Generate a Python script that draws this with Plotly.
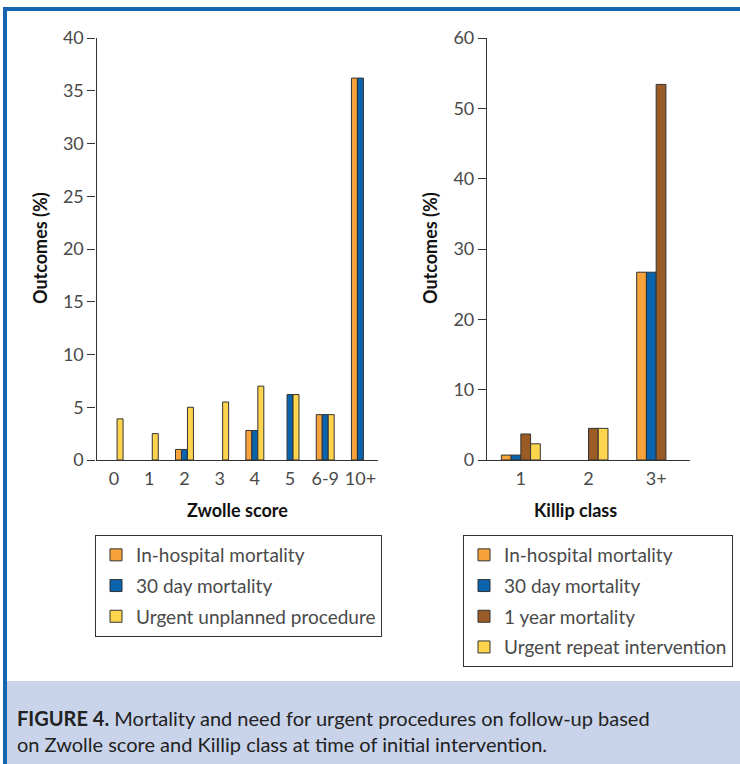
import plotly.graph_objects as go

# ---------------- data ----------------
zwolle_cats = ["0", "1", "2", "3", "4", "5", "6-9", "10+"]
zw_inhospital = [None, None, 1.0, None, 2.8, None, 4.3, 36.2]
zw_30day = [None, None, 1.0, None, 2.8, 6.2, 4.3, 36.2]
zw_urgent = [3.9, 2.5, 5.0, 5.5, 7.0, 6.2, 4.3, None]

killip_cats = ["1", "2", "3+"]
ki_inhospital = [0.7, None, 26.7]
ki_30day = [0.7, None, 26.7]
ki_1year = [3.7, 4.5, 53.4]
ki_urgent = [2.3, 4.5, None]

zw_yticks = [0, 5, 10, 15, 20, 25, 30, 35, 40]
ki_yticks = [0, 10, 20, 30, 40, 50, 60]

# ---------------- styling ----------------
W, H = 740, 764
FONT = "Lato"
ORANGE = "#F7A23A"
BLUE = "#0A63AD"
BROWN = "#9A5B27"
YELLOW = "#FFD44D"
EDGE = "#333333"
TXT = "#4a4a4a"


def px(x):
    return x / W


def py(y):
    return 1 - y / H


fig = go.Figure()

lw = 0.170
left_series = [
    ("In-hospital mortality", zw_inhospital, ORANGE, -1.5 * lw),
    ("30 day mortality", zw_30day, BLUE, -0.5 * lw),
    ("Urgent unplanned procedure", zw_urgent, YELLOW, 0.5 * lw),
]
for i, (name, vals, col, off) in enumerate(left_series):
    fig.add_trace(go.Bar(
        x=zwolle_cats, y=vals, name=name, width=lw, offset=off,
        marker=dict(color=col, line=dict(color=EDGE, width=1)),
        xaxis="x", yaxis="y", legend="legend", legendgroup="L%d" % i,
    ))

rw = 0.144
right_series = [
    ("In-hospital mortality", ki_inhospital, ORANGE, -2 * rw),
    ("30 day mortality", ki_30day, BLUE, -1 * rw),
    ("1 year mortality", ki_1year, BROWN, 0),
    ("Urgent repeat intervention", ki_urgent, YELLOW, rw),
]
for i, (name, vals, col, off) in enumerate(right_series):
    fig.add_trace(go.Bar(
        x=killip_cats, y=vals, name=name, width=rw, offset=off,
        marker=dict(color=col, line=dict(color=EDGE, width=1)),
        xaxis="x2", yaxis="y2", legend="legend2", legendgroup="R%d" % i,
    ))

axis_common = dict(showline=True, linecolor=EDGE, linewidth=1.2, showgrid=False,
                   zeroline=False, automargin=False,
                   tickfont=dict(family=FONT, size=18, color=TXT))

legend_common = dict(xanchor="left", yanchor="top", bordercolor=EDGE, borderwidth=1,
                     bgcolor="white", font=dict(family=FONT, size=19, color=TXT),
                     traceorder="grouped", tracegroupgap=3)

fig.update_layout(
    width=W, height=H,
    margin=dict(l=0, r=0, t=0, b=0, pad=0, autoexpand=False),
    paper_bgcolor="white", plot_bgcolor="white",
    barmode="overlay",
    font=dict(family=FONT, color=TXT),
    xaxis=dict(domain=[px(96.5), px(378)], anchor="y", type="category",
               range=[-0.5, 7.5], ticks="outside", ticklen=2, tickcolor="rgba(0,0,0,0)",
               **axis_common),
    yaxis=dict(domain=[py(460), py(38)], anchor="x", range=[0, 40],
               tickvals=zw_yticks, ticks="outside", ticklen=8, tickcolor=EDGE,
               **axis_common),
    xaxis2=dict(domain=[px(487), px(690)], anchor="y2", type="category",
                range=[-0.5, 2.5], ticks="outside", ticklen=2, tickcolor="rgba(0,0,0,0)",
                **axis_common),
    yaxis2=dict(domain=[py(460), py(38)], anchor="x2", range=[0, 60],
                tickvals=ki_yticks, ticks="outside", ticklen=8, tickcolor=EDGE,
                **axis_common),
    legend=dict(x=px(95), y=py(535), **legend_common),
    legend2=dict(x=px(463), y=py(535), **legend_common),
    showlegend=True,
)

# axis titles
title_font = dict(family=FONT, size=18, color="#111111")
ann = [
    dict(text="<b>Zwolle score</b>", x=px(237), y=py(510)),
    dict(text="<b>Killip class</b>", x=px(575), y=py(510)),
    dict(text="<b>Outcomes (%)</b>", x=px(40), y=py(248), textangle=-90),
    dict(text="<b>Outcomes (%)</b>", x=px(430), y=py(248), textangle=-90),
]
for a in ann:
    fig.add_annotation(xref="paper", yref="paper", showarrow=False,
                       xanchor="center", yanchor="middle", font=title_font, **a)

# caption band and frame
fig.add_shape(type="rect", xref="paper", yref="paper",
              x0=px(7), x1=1, y0=0, y1=py(681),
              fillcolor="#C9D4EB", line=dict(width=0), layer="below")
fig.add_shape(type="rect", xref="paper", yref="paper",
              x0=px(3), x1=1, y0=py(11), y1=py(7),
              fillcolor="#1565B0", line=dict(width=0))
fig.add_shape(type="rect", xref="paper", yref="paper",
              x0=px(3), x1=px(7), y0=0, y1=py(7),
              fillcolor="#1565B0", line=dict(width=0))

fig.add_annotation(
    xref="paper", yref="paper", x=px(15), y=py(731), xanchor="left", yanchor="middle",
    showarrow=False, align="left",
    text="<b>FIGURE 4.</b> Mortality and need for urgent procedures on follow-up based<br>"
         "on Zwolle score and Killip class at time of initial intervention.",
    font=dict(family=FONT, size=20, color="#222222"),
)

fig.write_html(
    "out.html",
    config={"responsive": False, "displayModeBar": False},
    post_script=(
        "var d=document.getElementById('{plot_id}');"
        "d.style.position='absolute';d.style.left='0px';d.style.top='0px';"
        "document.body.style.margin='0';document.body.style.overflow='hidden';"
        "document.documentElement.style.overflow='hidden';"
    ),
)
